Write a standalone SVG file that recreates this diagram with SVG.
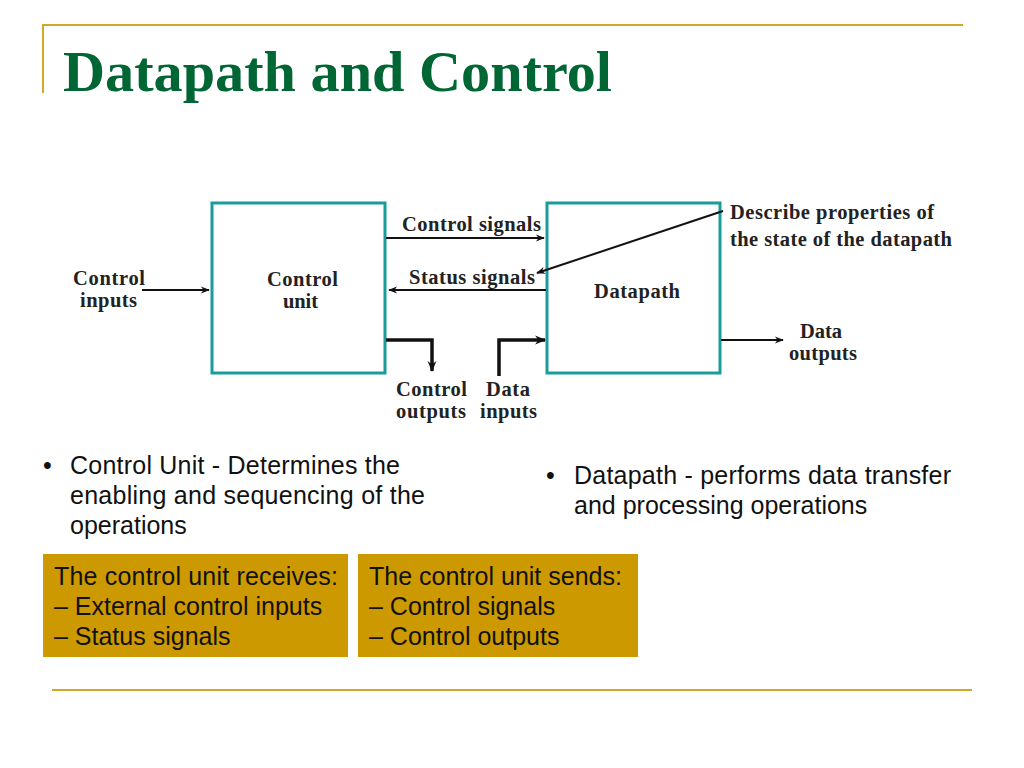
<svg xmlns="http://www.w3.org/2000/svg" width="1024" height="768" viewBox="0 0 1024 768">
<defs>
<style>
.rule{stroke:#D4A62A;stroke-width:2;fill:none}
.title{font-family:"Liberation Serif",serif;font-weight:bold;font-size:58px;fill:#006633}
.box{fill:none;stroke:#199C9C;stroke-width:3}
.lbl{font-family:"Liberation Serif",serif;font-weight:bold;font-size:20.5px;fill:#222}
.wire{stroke:#111;stroke-width:2;fill:none}
.thick{stroke:#111;stroke-width:3.5;fill:none}
.body{font-family:"Liberation Sans",Arial,sans-serif;font-size:25px;fill:#111}
.gold{fill:#CC9900}
</style>
<marker id="ah" viewBox="0 0 10 10" refX="9" refY="5" markerWidth="12" markerHeight="9" markerUnits="userSpaceOnUse" orient="auto">
<path d="M0,1 L10,5 L0,9 L3,5 Z" fill="#111"/>
</marker>
<marker id="ah2" viewBox="0 0 10 10" refX="9" refY="5" markerWidth="13" markerHeight="11" markerUnits="userSpaceOnUse" orient="auto">
<path d="M0,1 L10,5 L0,9 L3,5 Z" fill="#111"/>
</marker>
</defs>
<rect width="1024" height="768" fill="#fff"/>
<g id="frame">
<path class="rule" d="M42,25 H963 M43,25 V93"/>
<path class="rule" d="M52,690 H972"/>
</g>
<text class="title" x="63" y="91" textLength="549" lengthAdjust="spacingAndGlyphs">Datapath and Control</text>
<g id="control-unit">
<rect class="box" x="212" y="203" width="173" height="170"/>
<text class="lbl" x="267" y="286" textLength="71">Control</text>
<text class="lbl" x="283" y="308" textLength="35">unit</text>
</g>
<g id="datapath">
<rect class="box" x="547" y="203" width="173" height="170"/>
<text class="lbl" x="594" y="298" textLength="86">Datapath</text>
</g>
<g id="connectors">
<line class="wire" x1="142" y1="290" x2="209" y2="290" marker-end="url(#ah)"/>
<line class="wire" x1="386" y1="238" x2="544" y2="238" marker-end="url(#ah)"/>
<line class="wire" x1="546" y1="290" x2="389" y2="290" marker-end="url(#ah)"/>
<line class="wire" x1="723" y1="211" x2="537" y2="273" marker-end="url(#ah)"/>
<polyline class="thick" points="386,340 432,340 432,371" marker-end="url(#ah2)"/>
<polyline class="thick" points="499,376 499,340 545,340" marker-end="url(#ah2)"/>
<line class="wire" x1="721" y1="340" x2="783" y2="340" marker-end="url(#ah)"/>
</g>
<g id="labels">
<text class="lbl" x="73" y="285" textLength="72">Control</text>
<text class="lbl" x="80" y="307" textLength="57">inputs</text>
<text class="lbl" x="402" y="231" textLength="139">Control signals</text>
<text class="lbl" x="409" y="284" textLength="126">Status signals</text>
<text class="lbl" x="730" y="219" textLength="204">Describe properties of</text>
<text class="lbl" x="730" y="246" textLength="222">the state of the datapath</text>
<text class="lbl" x="396" y="396" textLength="71">Control</text>
<text class="lbl" x="396" y="418" textLength="70">outputs</text>
<text class="lbl" x="486" y="396" textLength="44">Data</text>
<text class="lbl" x="480" y="418" textLength="57">inputs</text>
<text class="lbl" x="800" y="338" textLength="42">Data</text>
<text class="lbl" x="789" y="360" textLength="68">outputs</text>
</g>
<g id="bullets">
<text class="body" x="43" y="474">•</text>
<text class="body" x="70" y="474" textLength="330">Control Unit - Determines the</text>
<text class="body" x="70" y="504" textLength="355">enabling and sequencing of the</text>
<text class="body" x="70" y="534">operations</text>
<text class="body" x="546" y="484">•</text>
<text class="body" x="574" y="484" textLength="377">Datapath - performs data transfer</text>
<text class="body" x="574" y="514">and processing operations</text>
</g>
<g id="receives">
<rect class="gold" x="43" y="554" width="305" height="103"/>
<text class="body" x="54" y="585" textLength="284">The control unit receives:</text>
<text class="body" x="54" y="615">– External control inputs</text>
<text class="body" x="54" y="645">– Status signals</text>
</g>
<g id="sends">
<rect class="gold" x="358" y="554" width="280" height="103"/>
<text class="body" x="369" y="585">The control unit sends:</text>
<text class="body" x="369" y="615">– Control signals</text>
<text class="body" x="369" y="645">– Control outputs</text>
</g>
</svg>
